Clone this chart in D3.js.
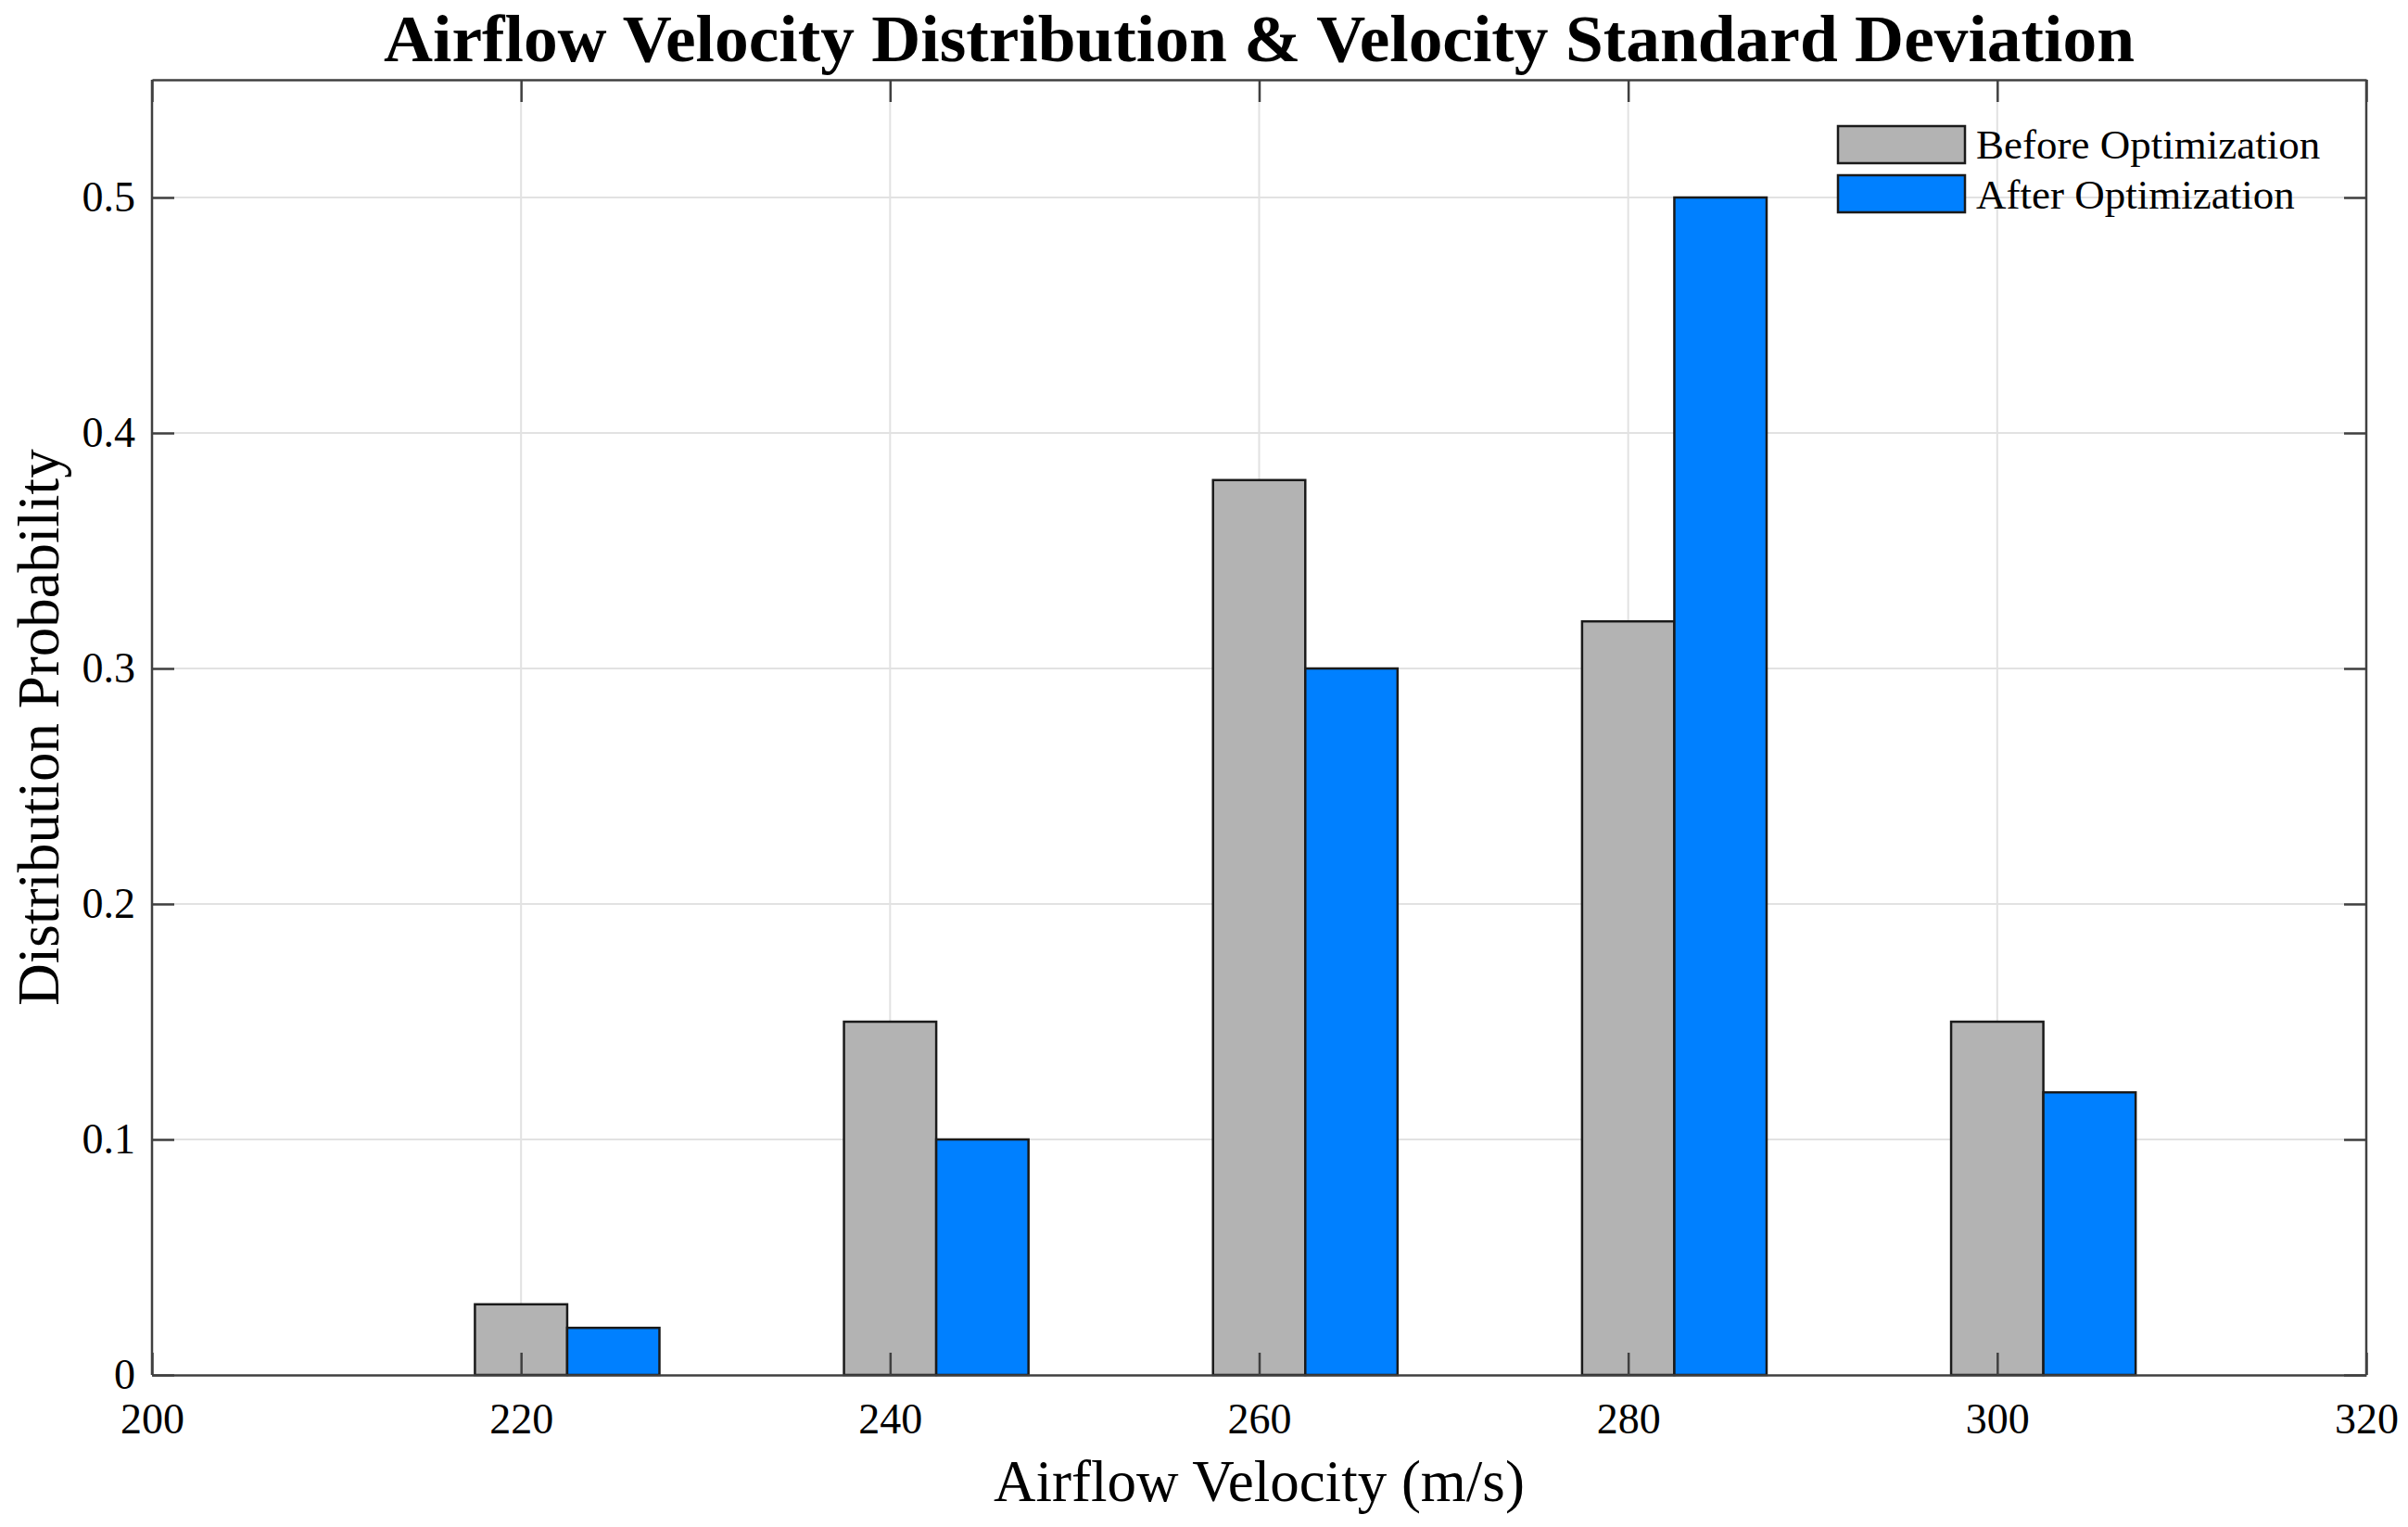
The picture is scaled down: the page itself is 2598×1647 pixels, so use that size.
<!DOCTYPE html>
<html><head><meta charset="utf-8">
<script src="https://cdn.jsdelivr.net/npm/d3@7"></script>
<style>html,body{margin:0;padding:0;background:#fff;} svg{display:block;}</style>
</head><body>
<script>
const categories = [220, 240, 260, 280, 300];
const beforeValues = [0.03, 0.15, 0.38, 0.32, 0.15];
const afterValues = [0.02, 0.10, 0.30, 0.50, 0.12];
const seriesNames = ["Before Optimization", "After Optimization"];
const xTickValues = [200, 220, 240, 260, 280, 300, 320];
const xTickLabels = ["200", "220", "240", "260", "280", "300", "320"];
const yTickValues = [0, 0.1, 0.2, 0.3, 0.4, 0.5];
const yTickLabels = ["0", "0.1", "0.2", "0.3", "0.4", "0.5"];

const W = 2598, H = 1647;
const L = 164, R = 2553, T = 86, B = 1483;
const FONT = "'Liberation Serif','Times New Roman',serif";
const colors = ["#b3b3b3", "#0080ff"];
const barW = 5;

const svg = d3.select("body").append("svg").attr("width", W).attr("height", H);
const x = d3.scaleLinear().domain([200, 320]).range([L, R]);
const y = d3.scaleLinear().domain([0, 0.55]).range([B, T]);

// grid
const g = svg.append("g");
g.selectAll(".gx").data(xTickValues.slice(1, -1)).join("line")
  .attr("x1", d => x(d)).attr("x2", d => x(d)).attr("y1", T).attr("y2", B)
  .attr("stroke", "#e2e2e2").attr("stroke-width", 2);
g.selectAll(".gy").data(yTickValues.slice(1)).join("line")
  .attr("x1", L).attr("x2", R).attr("y1", d => y(d)).attr("y2", d => y(d))
  .attr("stroke", "#e2e2e2").attr("stroke-width", 2);

// bars
const series = [beforeValues, afterValues];
series.forEach((vals, si) => {
  svg.append("g").selectAll("rect").data(categories).join("rect")
    .attr("x", (d) => x(d - barW / 2 + si * barW))
    .attr("width", (d) => x(d + barW / 2 + si * barW) - x(d - barW / 2 + si * barW))
    .attr("y", (d, i) => y(vals[i]))
    .attr("height", (d, i) => y(0) - y(vals[i]))
    .attr("fill", colors[si]).attr("stroke", "#1a1a1a").attr("stroke-width", 2.5);
});

// axes
const axisColor = "#404040";
function style(sel) {
  sel.selectAll("path.domain").attr("stroke", axisColor).attr("stroke-width", 2.5);
  sel.selectAll(".tick line").attr("stroke", axisColor).attr("stroke-width", 2.5);
  sel.selectAll("text").attr("font-family", FONT).attr("font-size", 46).attr("fill", "#000");
}
const xa = svg.append("g").attr("transform", `translate(0,${B})`)
  .call(d3.axisBottom(x).tickValues(xTickValues).tickFormat((d, i) => xTickLabels[i]).tickSizeInner(-24).tickSizeOuter(0).tickPadding(30));
style(xa);
const xt = svg.append("g").attr("transform", `translate(0,${T})`)
  .call(d3.axisTop(x).tickValues(xTickValues).tickFormat("").tickSizeInner(-24).tickSizeOuter(0));
style(xt);
const ya = svg.append("g").attr("transform", `translate(${L},0)`)
  .call(d3.axisLeft(y).tickValues(yTickValues).tickFormat((d, i) => yTickLabels[i]).tickSizeInner(-24).tickSizeOuter(0).tickPadding(18));
style(ya);
ya.select("path.domain").attr("d", `M0,${B}V${T}`);
const yr = svg.append("g").attr("transform", `translate(${R},0)`)
  .call(d3.axisRight(y).tickValues(yTickValues).tickFormat("").tickSizeInner(-24).tickSizeOuter(0));
style(yr);
yr.select("path.domain").attr("d", `M0,${B}V${T}`);

// title
svg.append("text").attr("x", (L + R) / 2).attr("y", 66).attr("text-anchor", "middle")
  .attr("font-family", FONT).attr("font-weight", "bold").attr("font-size", 72)
  .attr("textLength", 1889).attr("lengthAdjust", "spacingAndGlyphs")
  .text("Airflow Velocity Distribution & Velocity Standard Deviation");
// axis labels
svg.append("text").attr("x", (L + R) / 2).attr("y", 1619).attr("text-anchor", "middle")
  .attr("font-family", FONT).attr("font-size", 63).text("Airflow Velocity (m/s)");
svg.append("text").attr("transform", `translate(63,${(T + B) / 2}) rotate(-90)`).attr("text-anchor", "middle")
  .attr("font-family", FONT).attr("font-size", 63).text("Distribution Probability");

// legend
const lg = svg.append("g");
seriesNames.forEach((name, i) => {
  lg.append("rect").attr("x", 1983).attr("y", 136 + i * 53).attr("width", 137).attr("height", 40)
    .attr("fill", colors[i]).attr("stroke", "#1a1a1a").attr("stroke-width", 2.5);
  lg.append("text").attr("x", 2132).attr("y", 171 + i * 54)
    .attr("font-family", FONT).attr("font-size", 45).text(name);
});
</script>
</body></html>
